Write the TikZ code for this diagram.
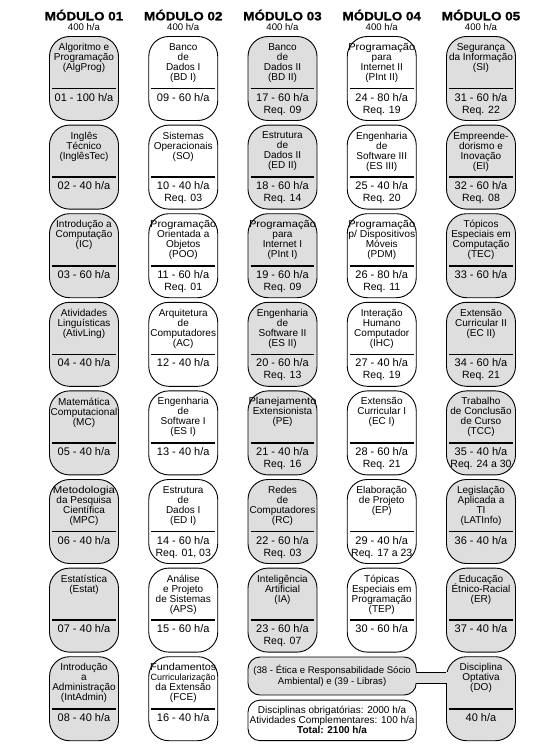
\documentclass[tikz,border=0pt]{standalone}
\usepackage{fontspec}
\setmainfont{Liberation Sans}
\newfontfamily\hdrfont[FakeStretch=1.12,FakeBold=1.2]{Liberation Sans Bold}
\usetikzlibrary{calc}
\definecolor{boxgray}{gray}{0.87}
\newcommand\ttlfont{\fontsize{10}{10}\selectfont\lineskiplimit=-20pt\lineskip=0pt}
\newcommand\fitto[2]{\resizebox{#1pt}{\height}{#2}}
\newcommand\mkcourse[7]{%
  \pgfmathsetmacro\cx{84+99.25*(#2-1)}%
  \pgfmathsetmacro\ct{36.5+88.6*(#3-1)}%
  \node[cbox,fill=#4] (#1) at (\cx,\ct+42) {};
  \node[ttl,anchor=north] (#1-t) at ([yshift=-7pt]#1.north) {#5};
  \draw[divider] ([xshift=3pt,yshift=-52.5pt]#1.north west) -- ([xshift=-3pt,yshift=-52.5pt]#1.north east);
  \node[hrs,anchor=base] (#1-h) at ([yshift=-65pt]#1.north) {#6};
  \def\tmpreq{#7}\ifx\tmpreq\empty\else
  \node[req,anchor=base] (#1-r) at ([yshift=-77pt]#1.north) {#7};\fi
}
\begin{document}
\begin{tikzpicture}[x=1pt,y=-1pt,
  cbox/.style={draw=black,line width=0.9pt,rounded corners=20pt,minimum width=69pt,minimum height=84pt,inner sep=0pt},
  ttl/.style={align=center,inner sep=0pt,font=\ttlfont,execute at begin node={\rule{0pt}{9pt}}},
  divider/.style={line width=1.6pt},
  hrs/.style={inner sep=0pt,font=\fontsize{11}{11}\selectfont},
  req/.style={inner sep=0pt,font=\fontsize{10.5}{10.5}\selectfont},
  hdr/.style={inner sep=0pt,font=\fontsize{12}{12}\hdrfont},
  sub/.style={inner sep=0pt,font=\fontsize{9.6}{9.6}\selectfont},
  txt/.style={inner sep=0pt,align=center,font=\fontsize{9.6}{10.5}\selectfont}]
\fill[white] (0,0) rectangle (540,746);
\useasboundingbox (0,0) rectangle (540,746);
\foreach \i in {1,...,5} {
  \pgfmathsetmacro\hx{84+99.25*(\i-1)}
  \node[hdr,anchor=base] (m\i) at (\hx,20.3) {MÓDULO 0\i};
  \node[sub,anchor=base] (h\i) at (\hx,30.7) {400 h/a};
}
% Modulo 01
\mkcourse{alg}{1}{1}{boxgray}{Algoritmo e\\Programação\\(AlgProg)}{01 - 100 h/a}{}
\mkcourse{ing}{1}{2}{boxgray}{Inglês\\Técnico\\(InglêsTec)}{02 - 40 h/a}{}
\mkcourse{ic}{1}{3}{boxgray}{Introdução a\\Computação\\(IC)}{03 - 60 h/a}{}
\mkcourse{ativ}{1}{4}{boxgray}{Atividades\\Linguísticas\\(AtivLing)}{04 - 40 h/a}{}
\mkcourse{mc}{1}{5}{boxgray}{Matemática\\Computacional\\(MC)}{05 - 40 h/a}{}
\mkcourse{mpc}{1}{6}{boxgray}{\fitto{62}{Metodologia}\\da Pesquisa\\Científica\\(MPC)}{06 - 40 h/a}{}
\mkcourse{est}{1}{7}{boxgray}{Estatística\\(Estat)}{07 - 40 h/a}{}
\mkcourse{adm}{1}{8}{boxgray}{Introdução\\a\\Administração\\(IntAdmin)}{08 - 40 h/a}{}
% Modulo 02
\mkcourse{bd1}{2}{1}{white}{Banco\\de\\Dados I\\(BD I)}{09 - 60 h/a}{}
\mkcourse{so}{2}{2}{white}{Sistemas\\Operacionais\\(SO)}{10 - 40 h/a}{Req. 03}
\mkcourse{poo}{2}{3}{white}{\fitto{66}{Programação}\\Orientada a\\Objetos\\(POO)}{11 - 60 h/a}{Req. 01}
\mkcourse{ac}{2}{4}{white}{Arquitetura\\de\\Computadores\\(AC)}{12 - 40 h/a}{}
\mkcourse{es1}{2}{5}{white}{Engenharia\\de\\Software I\\(ES I)}{13 - 40 h/a}{}
\mkcourse{ed1}{2}{6}{white}{Estrutura\\de\\Dados I\\(ED I)}{14 - 60 h/a}{Req. 01, 03}
\mkcourse{aps}{2}{7}{white}{Análise\\e Projeto\\de Sistemas\\(APS)}{15 - 60 h/a}{}
\mkcourse{fce}{2}{8}{white}{\fitto{66}{Fundamentos}\\{\fontsize{9}{10}\selectfont Curricularização}\\da Extensão\\(FCE)}{16 - 40 h/a}{}
% Modulo 03
\mkcourse{bd2}{3}{1}{boxgray}{Banco\\de\\Dados II\\(BD II)}{17 - 60 h/a}{Req. 09}
\mkcourse{ed2}{3}{2}{boxgray}{Estrutura\\de\\Dados II\\(ED II)}{18 - 60 h/a}{Req. 14}
\mkcourse{pi1}{3}{3}{boxgray}{\fitto{67}{Programação}\\para\\Internet I\\(PInt I)}{19 - 60 h/a}{Req. 09}
\mkcourse{es2}{3}{4}{boxgray}{Engenharia\\de\\Software II\\(ES II)}{20 - 60 h/a}{Req. 13}
\mkcourse{pe}{3}{5}{boxgray}{\fitto{68}{Planejamento}\\Extensionista\\(PE)}{21 - 40 h/a}{Req. 16}
\mkcourse{rc}{3}{6}{boxgray}{Redes\\de\\Computadores\\(RC)}{22 - 60 h/a}{Req. 03}
\mkcourse{ia}{3}{7}{boxgray}{Inteligência\\Artificial\\(IA)}{23 - 60 h/a}{Req. 07}
% Modulo 04
\mkcourse{pi2}{4}{1}{white}{\fitto{67}{Programação}\\para\\Internet II\\(PInt II)}{24 - 80 h/a}{Req. 19}
\mkcourse{es3}{4}{2}{white}{Engenharia\\de\\Software III\\(ES III)}{25 - 40 h/a}{Req. 20}
\mkcourse{pdm}{4}{3}{white}{\fitto{67}{Programação}\\\fitto{67}{p/ Dispositivos}\\Móveis\\(PDM)}{26 - 80 h/a}{Req. 11}
\mkcourse{ihc}{4}{4}{white}{Interação\\Humano\\Computador\\(IHC)}{27 - 40 h/a}{Req. 19}
\mkcourse{ec1}{4}{5}{white}{Extensão\\Curricular I\\(EC I)}{28 - 60 h/a}{Req. 21}
\mkcourse{ep}{4}{6}{white}{Elaboração\\de Projeto\\(EP)}{29 - 40 h/a}{Req. 17 a 23}
\mkcourse{tep}{4}{7}{white}{Tópicas\\Especiais em\\Programação\\(TEP)}{30 - 60 h/a}{}
% Modulo 05
\mkcourse{si}{5}{1}{boxgray}{Segurança\\da Informação\\(SI)}{31 - 60 h/a}{Req. 22}
\mkcourse{ei}{5}{2}{boxgray}{Empreende-\\dorismo e\\Inovação\\(EI)}{32 - 60 h/a}{Req. 08}
\mkcourse{tec}{5}{3}{boxgray}{Tópicos\\Especiais em\\Computação\\(TEC)}{33 - 60 h/a}{}
\mkcourse{ec2}{5}{4}{boxgray}{Extensão\\Curricular II\\(EC II)}{34 - 60 h/a}{Req. 21}
\mkcourse{tcc}{5}{5}{boxgray}{Trabalho\\de Conclusão\\de Curso\\(TCC)}{35 - 40 h/a}{Req. 24 a 30}
\mkcourse{lat}{5}{6}{boxgray}{Legislação\\Aplicada a\\TI\\(LATInfo)}{36 - 40 h/a}{}
\mkcourse{er}{5}{7}{boxgray}{Educação\\Étnico-Racial\\(ER)}{37 - 40 h/a}{}
\mkcourse{do}{5}{8}{boxgray}{Disciplina\\Optativa\\(DO)}{40 h/a}{}
% bottom boxes
\node[cbox,fill=boxgray,minimum width=168.25pt,minimum height=38pt,rounded corners=12pt] (eti) at (332.1,676) {};
\node[txt] (eti-t) at (eti.center) {(38 - Ética e Responsabilidade Sócio\\Ambiental) e (39 - Libras)};
\node[cbox,fill=white,minimum width=168.25pt,minimum height=40.5pt,rounded corners=12pt] (tot) at (332.1,720.4) {};
\node[txt,font=\fontsize{10}{10}\selectfont] (tot-t) at (tot.center) {Disciplinas obrigatórias: 2000 h/a\\Atividades Complementares: 100 h/a\\\textbf{Total: 2100 h/a}};
% band joining eti and do
\fill[boxgray] ($(eti.east)+(-1.5,-4)$) rectangle ($(eti.east -| do.west)+(1.5,7)$);
\draw[line width=0.9pt] ($(eti.east)+(-0.3,-4)$) -- ($(eti.east -| do.west)+(0.3,-4)$);
\draw[line width=0.9pt] ($(eti.east)+(-0.3,7)$) -- ($(eti.east -| do.west)+(0.3,7)$);
\end{tikzpicture}
\end{document}
